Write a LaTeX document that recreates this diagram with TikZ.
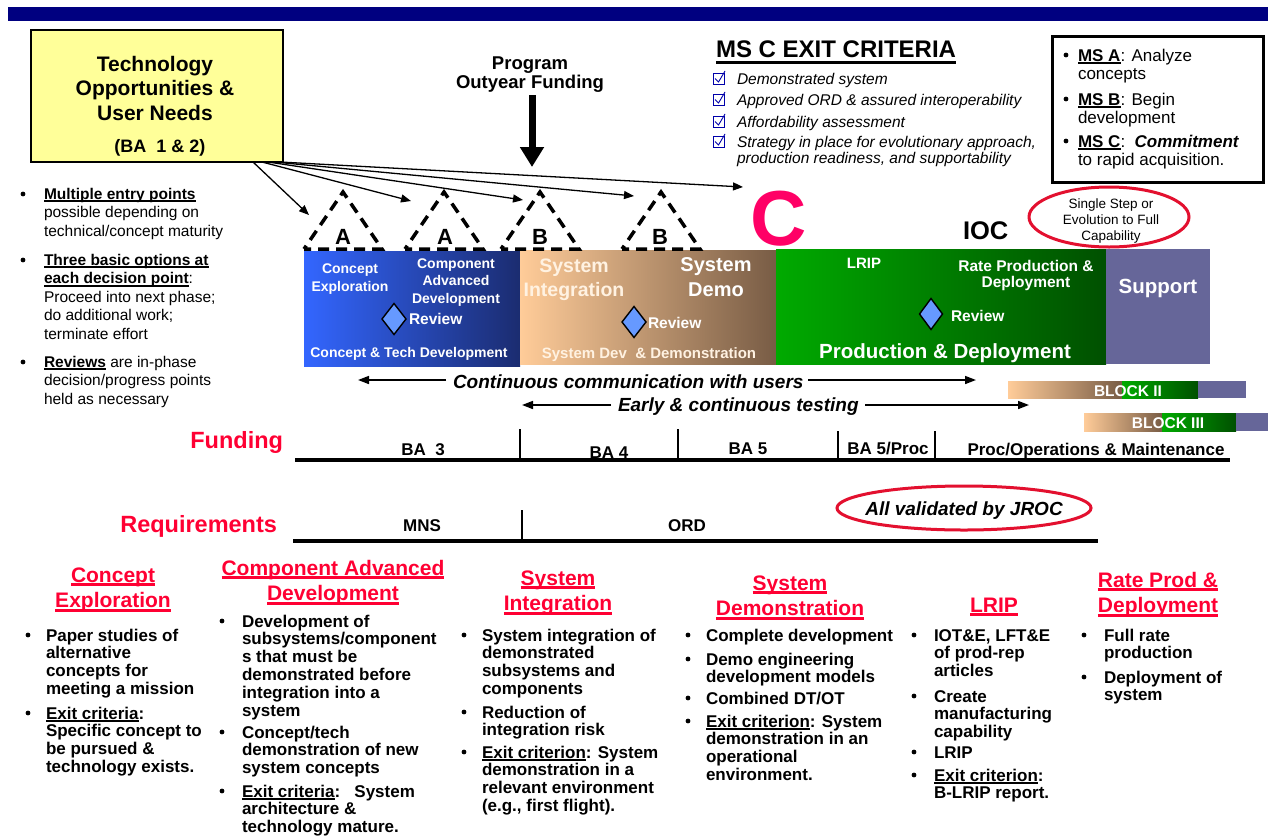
\documentclass[tikz,border=0pt]{standalone}
\usepackage{fontspec}
\setmainfont{Liberation Sans}
\usetikzlibrary{arrows.meta}
\definecolor{navy}{HTML}{000080}
\definecolor{yel}{HTML}{FFFF99}
\definecolor{redt}{HTML}{FF0033}
\definecolor{ringred}{HTML}{E3102F}
\definecolor{magc}{HTML}{FF0066}
\definecolor{blueL}{HTML}{3366FF}
\definecolor{blueR}{HTML}{1B2C70}
\definecolor{tanL}{HTML}{FFCC99}
\definecolor{tanR}{HTML}{785C45}
\definecolor{grnL}{HTML}{00AA00}
\definecolor{grnR}{HTML}{005000}
\definecolor{supp}{HTML}{666699}
\definecolor{diafill}{HTML}{6699FF}
\definecolor{chkblue}{HTML}{0000AA}
\definecolor{lighttan}{HTML}{FFF2E2}
\newcommand\fsz[2]{\fontsize{#1}{#2}\selectfont}
\newcommand\myul[1]{\leavevmode\setbox0\hbox{#1}\rlap{\rule[-3pt]{\wd0}{1.8pt}}\box0\relax}
\newcommand\tul[1]{\leavevmode\setbox0\hbox{#1}\rlap{\rule[-4pt]{\wd0}{2.6pt}}\box0\relax}
\newcommand\ulx[3]{\leavevmode\setbox0\hbox{#3}\rlap{\rule[#1]{\wd0}{#2}}\box0\relax}
\newcommand\Lft[1]{\vtop{\halign{##\hfil\cr#1\crcr}}}
\newcommand\Ctr[1]{\vtop{\halign{\hfil##\hfil\cr#1\crcr}}}
\newcommand\dotb[2]{\fill (#1,#2) circle (2.4pt);}
\newcommand\drawtri[1]{\draw[tridash] (#1-39,249) -- (#1,192) -- (#1+39,249) -- cycle;}
\newcommand\chk[1]{\draw[cbox] (713,#1-11) rectangle (724,#1); \draw[cbox] (715,#1-5.5) -- (718.5,#1-2) -- (725,#1-13);}
\tikzset{
 tbl/.style={anchor=base west, inner sep=0pt, outer sep=0pt},
 tbc/.style={anchor=base, inner sep=0pt, outer sep=0pt},
 tbr/.style={anchor=base east, inner sep=0pt, outer sep=0pt},
 fanarrow/.style={line width=1.3pt, -{Triangle[length=10pt,width=8pt]}},
 flowarrow/.style={line width=1.6pt, -{Triangle[length=11pt,width=8pt]}},
 tridash/.style={line width=3.5pt, dash pattern=on 11pt off 7pt, dash phase=7pt, line join=miter, miter limit=10},
 revdia/.style={fill=diafill, draw=black, line width=1.4pt, line join=miter},
 redring/.style={draw=ringred, line width=3pt},
 cbox/.style={draw=chkblue, line width=0.9pt},
 ptext/.style={text=white},
 bottomtxt/.style={font=\bfseries\fsz{17}{17.8}},
 coltitle/.style={text=redt, font=\bfseries\fsz{21}{25.5}},
 tickline/.style={line width=2.5pt},
 axisline/.style={line width=3.5pt},
 rowlabel/.style={text=redt, font=\bfseries\fsz{23.5}{26}},
 barlabel/.style={font=\bfseries\fsz{17}{18}},
}
\begin{document}
\begin{tikzpicture}[x=1pt,y=-1pt]
\useasboundingbox (0,0) rectangle (1268,838);
\fill[white] (0,0) rectangle (1268,838);
\fill[navy] (8,7) rectangle (1268,21);

% yellow box
\node[draw, line width=2pt, fill=yel, anchor=north west, minimum width=252pt, minimum height=132pt, inner sep=0pt] (tech) at (30,29) {};
\node[tbc, font=\bfseries\fsz{21}{24.5}] (techtxt) at (155,71) {\Ctr{Technology\cr Opportunities \&\cr User Needs}};
\node[tbc, font=\bfseries\fsz{18}{20}] (ba12) at (160,152) {(BA~~1 \& 2)};

% left notes
\dotb{23}{194}\dotb{23}{260}\dotb{23}{362}
\node[tbl, font=\fsz{15.5}{18.6}] (note1) at (44,199) {\Lft{\myul{\bfseries Multiple entry points}\cr possible depending on\cr technical/concept maturity}};
\node[tbl, font=\fsz{15.5}{18.6}] (note2) at (44,265) {\Lft{\myul{\bfseries Three basic options at}\cr \myul{\bfseries each decision point}:\cr Proceed into next phase;\cr do additional work;\cr terminate effort}};
\node[tbl, font=\fsz{15.5}{18.6}] (note3) at (44,367) {\Lft{\myul{\bfseries Reviews} are in-phase\cr decision/progress points\cr held as necessary}};

% program funding
\node[tbc, font=\bfseries\fsz{18.5}{19.5}] (prog) at (530,69) {\Ctr{Program\cr Outyear Funding}};
\coordinate (fundtop) at (532,95);
\coordinate (fundtip) at (532,167);
\draw[line width=7pt, -{Triangle[length=20pt,width=23pt]}] (fundtop) -- (fundtip);

% MS C exit criteria
\node[tbl, font=\bfseries\fsz{24}{28}] (msc) at (716,57) {\ulx{-7pt}{2.6pt}{MS C EXIT CRITERIA}};
\chk{84}\chk{105}\chk{127}\chk{147}
\node[tbl, font=\itshape\fsz{15.5}{16}] (ex1) at (737,84) {Demonstrated system};
\node[tbl, font=\itshape\fsz{15.5}{16}] (ex2) at (737,105) {Approved ORD \& assured interoperability};
\node[tbl, font=\itshape\fsz{15.5}{16}] (ex3) at (737,127) {Affordability assessment};
\node[tbl, font=\itshape\fsz{15.5}{16}] (ex4) at (737,147) {\Lft{Strategy in place for evolutionary approach,\cr production readiness, and supportability}};

% MS box
\node[draw, line width=3pt, anchor=north west, minimum width=211pt, minimum height=146pt, inner sep=0pt] (msbox) at (1051,35) {};
\dotb{1066}{55}\dotb{1066}{99}\dotb{1066}{141}
\node[tbl, font=\fsz{17}{18}] (msa) at (1078,61) {\Lft{\myul{\bfseries MS A}: Analyze\cr concepts}};
\node[tbl, font=\fsz{17}{18}] (msb) at (1078,105) {\Lft{\myul{\bfseries MS B}: Begin\cr development}};
\node[tbl, font=\fsz{17}{18}] (msc2) at (1078,147) {\Lft{\myul{\bfseries MS C}:~~\textbf{\textit{Commitment}}\cr to rapid acquisition.}};

% C, IOC, single step ellipse
\node[tbc, font=\bfseries\fsz{78}{80}, text=magc] (bigc) at (779,245) {C};
\node[tbl, font=\bfseries\fsz{25.5}{28}] (ioc) at (963,239) {IOC};
\draw[redring] (1109,217) ellipse [x radius=80pt, y radius=30pt];
\node[tbc, font=\fsz{13.5}{16}] (single) at (1111,208) {\Ctr{Single Step or\cr Evolution to Full\cr Capability}};

% phase bars
\shade[left color=blueL, right color=blueR] (304,251) rectangle (520,366);
\shade[left color=tanL, right color=tanR] (520,250) rectangle (776,364);
\shade[left color=grnL, right color=grnR] (776,249) rectangle (1106,364);
\fill[supp] (1106,249) rectangle (1210,364);

\node[tbc, ptext, font=\bfseries\fsz{14}{18}] (pce) at (350,273) {\Ctr{Concept\cr Exploration}};
\node[tbc, ptext, font=\bfseries\fsz{14}{17.5}] (pcad) at (456,268) {\Ctr{Component\cr Advanced\cr Development}};
\node[tbc, ptext, font=\bfseries\fsz{14}{16}] (pctd) at (409,357) {Concept \& Tech Development};
\node[tbc, text=lighttan, font=\bfseries\fsz{19.5}{24}] (psi) at (574,272) {\Ctr{System\cr Integration}};
\node[tbc, ptext, font=\bfseries\fsz{20}{25}] (psd) at (716,271) {\Ctr{System\cr Demo}};
\node[tbc, text=lighttan, font=\bfseries\fsz{15}{16}] (psdd) at (649,358) {System Dev~~\& Demonstration};
\node[tbc, ptext, font=\bfseries\fsz{15}{16}] (plrip) at (864,268) {LRIP};
\node[tbc, ptext, font=\bfseries\fsz{15.5}{16.5}] (prpd) at (1026,271) {\Ctr{Rate Production \&\cr Deployment}};
\node[tbc, ptext, font=\bfseries\fsz{20.5}{22}] (ppd) at (945,358) {Production \& Deployment};
\node[tbc, ptext, font=\bfseries\fsz{20.5}{22}] (psup) at (1158,293) {Support};

% review diamonds
\draw[revdia] (394,303.5) -- (406,319) -- (394,334.5) -- (382,319) -- cycle;
\draw[revdia] (634,306.5) -- (646,322) -- (634,337.5) -- (622,322) -- cycle;
\draw[revdia] (931,298.5) -- (942.5,314) -- (931,329.5) -- (919.5,314) -- cycle;
\node[tbl, ptext, font=\bfseries\fsz{15.5}{17}] (rv1) at (409,324) {Review};
\node[tbl, ptext, font=\bfseries\fsz{15.5}{17}] (rv2) at (648,328) {Review};
\node[tbl, ptext, font=\bfseries\fsz{15.5}{17}] (rv3) at (951,321) {Review};

% decision triangles
\drawtri{343}\drawtri{444}\drawtri{540}\drawtri{661}
\node[tbc, font=\bfseries\fsz{22}{24}] (la1) at (343,244) {A};
\node[tbc, font=\bfseries\fsz{22}{24}] (la2) at (445,244) {A};
\node[tbc, font=\bfseries\fsz{22}{24}] (lb1) at (540,244) {B};
\node[tbc, font=\bfseries\fsz{22}{24}] (lb2) at (660,244) {B};

% fan of entry arrows
\coordinate (o1) at (253,162);
\coordinate (o2) at (262,162);
\coordinate (o3) at (268,162);
\coordinate (o4) at (274,162);
\coordinate (o5) at (280,162);
\coordinate (tA1) at (309,215);
\coordinate (tA2) at (411,201);
\coordinate (tB1) at (523,200);
\coordinate (tB2) at (634,196);
\coordinate (tC) at (743,187);
\draw[fanarrow] (o1) -- (tA1);
\draw[fanarrow] (o2) -- (tA2);
\draw[fanarrow] (o3) -- (tB1);
\draw[fanarrow] (o4) -- (tB2);
\draw[fanarrow] (o5) -- (tC);

% communication / testing
\node[tbl, font=\bfseries\itshape\fsz{19}{20}] (cont) at (453,388) {Continuous communication with users};
\coordinate (c1a) at (446,380); \coordinate (c1b) at (358,380);
\coordinate (c2a) at (808,380); \coordinate (c2b) at (976,380);
\draw[flowarrow] (c1a) -- (c1b);
\draw[flowarrow] (c2a) -- (c2b);
\node[tbl, font=\bfseries\itshape\fsz{19}{20}] (test) at (618,411) {Early \& continuous testing};
\coordinate (t1a) at (611,405); \coordinate (t1b) at (522,405);
\coordinate (t2a) at (865,405); \coordinate (t2b) at (1029,405);
\draw[flowarrow] (t1a) -- (t1b);
\draw[flowarrow] (t2a) -- (t2b);

% block bars
\shade[left color=tanL, right color=tanR] (1008,381) rectangle (1122,398);
\shade[left color=grnL, right color=grnR] (1122,381) rectangle (1198,398);
\fill[supp] (1198,381) rectangle (1246,398);
\node[tbc, ptext, font=\bfseries\fsz{15.5}{16}] (blk2) at (1128,396) {BLOCK II};
\shade[left color=tanL, right color=tanR] (1084,413) rectangle (1162,431);
\shade[left color=grnL, right color=grnR] (1162,413) rectangle (1236,431);
\fill[supp] (1236,413) rectangle (1268,431);
\node[tbc, ptext, font=\bfseries\fsz{15.5}{16}] (blk3) at (1168,428) {BLOCK III};

% funding row
\node[tbr, rowlabel] (fund) at (283,448) {Funding};
\draw[axisline] (295,460) -- (1230,460);
\draw[tickline] (520,429) -- (520,460);
\draw[tickline] (678,429) -- (678,460);
\draw[tickline] (838,431) -- (838,460);
\draw[tickline] (935,431) -- (935,460);
\node[tbc, barlabel] (ba3) at (423,455) {BA~~3};
\node[tbc, barlabel] (ba4) at (609,458) {BA 4};
\node[tbc, barlabel] (ba5) at (748,454) {BA 5};
\node[tbc, barlabel] (ba5p) at (888,454) {BA 5/Proc};
\node[tbc, barlabel] (procom) at (1096,455) {Proc/Operations \& Maintenance};

% requirements row
\node[tbr, rowlabel] (req) at (277,532) {Requirements};
\draw[axisline] (293,541) -- (1098,541);
\draw[tickline] (522,510) -- (522,541);
\node[tbc, barlabel] (mns) at (422,531) {MNS};
\node[tbc, barlabel] (ord) at (687,531) {ORD};
\draw[redring] (964,508) ellipse [x radius=127pt, y radius=22pt];
\node[tbc, font=\bfseries\itshape\fsz{19}{20}] (jroc) at (964,515) {All validated by JROC};

% column 1
\node[tbc, coltitle] (h1) at (113,582) {\Ctr{\tul{Concept}\cr \tul{Exploration}}};
\dotb{28}{635}\dotb{28}{713}
\node[tbl, bottomtxt] (c1i1) at (46,641) {\Lft{Paper studies of\cr alternative\cr concepts for\cr meeting a mission}};
\node[tbl, bottomtxt] (c1i2) at (46,719) {\Lft{\myul{Exit criteria}:\cr Specific concept to\cr be pursued \&\cr technology exists.}};

% column 2
\node[tbc, coltitle] (h2) at (333,575) {\Ctr{\tul{Component Advanced}\cr \tul{Development}}};
\dotb{222}{621}\dotb{222}{732}\dotb{222}{791}
\node[tbl, bottomtxt] (c2i1) at (242,627) {\Lft{Development of\cr subsystems/component\cr s that must be\cr demonstrated before\cr integration into a\cr system}};
\node[tbl, bottomtxt] (c2i2) at (242,738) {\Lft{Concept/tech\cr demonstration of new\cr system concepts}};
\node[tbl, bottomtxt] (c2i3) at (242,797) {\Lft{\myul{Exit criteria}:~~~System\cr architecture \&\cr technology mature.}};

% column 3
\node[tbc, coltitle] (h3) at (558,585) {\Ctr{\tul{System}\cr \tul{Integration}}};
\dotb{464}{635}\dotb{464}{712}\dotb{464}{752}
\node[tbl, bottomtxt] (c3i1) at (482,641) {\Lft{System integration of\cr demonstrated\cr subsystems and\cr components}};
\node[tbl, bottomtxt] (c3i2) at (482,718) {\Lft{Reduction of\cr integration risk}};
\node[tbl, bottomtxt] (c3i3) at (482,758) {\Lft{\myul{Exit criterion}: System\cr demonstration in a\cr relevant environment\cr (e.g., first flight).}};

% column 4
\node[tbc, coltitle] (h4) at (790,590) {\Ctr{\tul{System}\cr \tul{Demonstration}}};
\dotb{688}{635}\dotb{688}{659}\dotb{688}{698}\dotb{688}{721}
\node[tbl, bottomtxt] (c4i1) at (706,641) {Complete development};
\node[tbl, bottomtxt] (c4i2) at (706,665) {\Lft{Demo engineering\cr development models}};
\node[tbl, bottomtxt] (c4i3) at (706,704) {Combined DT/OT};
\node[tbl, bottomtxt] (c4i4) at (706,727) {\Lft{\myul{Exit criterion}: System\cr demonstration in an\cr operational\cr environment.}};

% column 5
\node[tbc, coltitle] (h5) at (994,612) {\tul{LRIP}};
\dotb{914}{635}\dotb{914}{696}\dotb{914}{752}\dotb{914}{775}
\node[tbl, bottomtxt] (c5i1) at (934,641) {\Lft{IOT\&E, LFT\&E\cr of prod-rep\cr articles}};
\node[tbl, bottomtxt] (c5i2) at (934,702) {\Lft{Create\cr manufacturing\cr capability}};
\node[tbl, bottomtxt] (c5i3) at (934,758) {LRIP};
\node[tbl, bottomtxt] (c5i4) at (934,781) {\Lft{\myul{Exit criterion}:\cr B-LRIP report.}};

% column 6
\node[tbc, coltitle] (h6) at (1158,587) {\Ctr{\tul{Rate Prod \&}\cr \tul{Deployment}}};
\dotb{1084}{635}\dotb{1084}{677}
\node[tbl, bottomtxt] (c6i1) at (1104,641) {\Lft{Full rate\cr production}};
\node[tbl, bottomtxt] (c6i2) at (1104,683) {\Lft{Deployment of\cr system}};
\end{tikzpicture}
\end{document}
